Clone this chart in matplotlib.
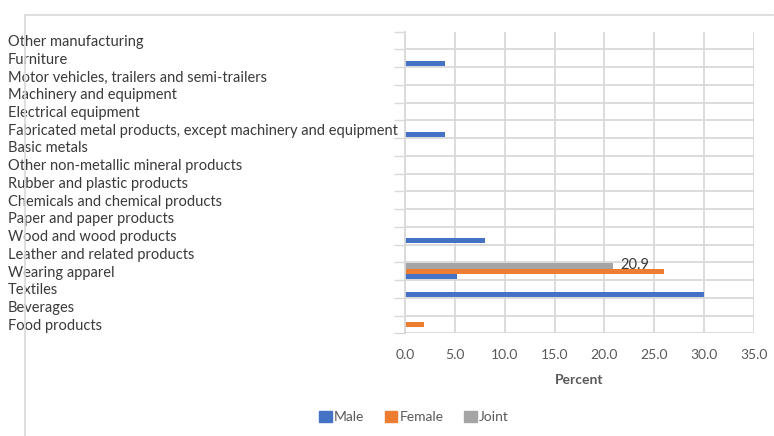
"""Horizontal grouped bar chart: share of manufacturing by sex of owner."""

import matplotlib
matplotlib.use("Agg")
import matplotlib.pyplot as plt
import matplotlib.transforms as mtransforms
from matplotlib.lines import Line2D
from matplotlib.patches import Patch
import numpy as np

# ── Data (bottom to top, as the categories sit on the axis) ──
industries = [
    "Food products",
    "Beverages",
    "Textiles",
    "Wearing apparel",
    "Leather and related products",
    "Wood and wood products",
    "Paper and paper products",
    "Chemicals and chemical products",
    "Rubber and plastic products",
    "Other non-metallic mineral products",
    "Basic metals",
    "Fabricated metal products, except machinery and equipment",
    "Electrical equipment",
    "Machinery and equipment",
    "Motor vehicles, trailers and semi-trailers",
    "Furniture",
    "Other manufacturing",
]
male   = [0, 0, 30.0, 5.2, 0, 8.0, 0, 0, 0, 0, 0, 4.0, 0, 0, 0, 4.0, 0]
female = [1.9, 0, 0, 26.0, 0, 0, 0, 0, 0, 0, 0, 0, 0, 0, 0, 0, 0]
joint  = [0, 0, 0, 20.9, 0, 0, 0, 0, 0, 0, 0, 0, 0, 0, 0, 0, 0]
xticks = [0, 5, 10, 15, 20, 25, 30, 35]

# ── Style ──
plt.rcParams.update({
    "font.family": ["Lato", "DejaVu Sans"],
    "font.size": 10,
})

C_MALE   = "#4472C4"
C_FEMALE = "#ED7D31"
C_JOINT  = "#A5A5A5"
C_GRID   = "#D9D9D9"
C_TEXT   = "#3A3A3A"
C_TICK   = "#595959"

W, H = 774, 436
fig = plt.figure(figsize=(W / 100, H / 100), dpi=100)
ax = fig.add_axes([405 / W, 1 - 333.3 / H, (754 - 405) / W, (333.3 - 31.7) / H])

y = np.arange(len(industries))
h = 0.29
ax.barh(y - h, male, h, color=C_MALE, label="Male")
ax.barh(y, female, h, color=C_FEMALE, label="Female")
bars_j = ax.barh(y + h, joint, h, color=C_JOINT, label="Joint")

# data label on the only joint-ownership bar
for bar, val in zip(bars_j, joint):
    if val > 0:
        ax.text(bar.get_width() + 0.7, bar.get_y() + bar.get_height() / 2 + 0.05,
                f"{val:.1f}", ha="left", va="center", fontsize=10.5, color=C_TEXT)

ax.set_xlim(0, 35)
ax.set_ylim(-0.5, len(industries) - 0.5)
ax.set_xticks(xticks)
ax.set_xticklabels([f"{v:.1f}" for v in xticks], color=C_TICK, fontsize=10)
ax.tick_params(axis="x", length=0, pad=11)
ax.set_xlabel("Percent", color=C_TICK, fontsize=10, fontweight="bold", labelpad=10)

# category boundaries: tick marks plus horizontal rules
ax.set_yticks([])
ax.set_yticks(np.arange(len(industries) + 1) - 0.5, minor=True)
ax.tick_params(axis="y", which="minor", length=8, width=1, color=C_GRID)
ax.grid(axis="x", color=C_GRID, lw=1.3)
ax.grid(axis="y", which="minor", color=C_GRID, lw=1.3)
ax.yaxis.get_minor_ticks()[-1].gridline.set_visible(False)
ax.set_axisbelow(True)

for side in ["top", "right", "bottom"]:
    ax.spines[side].set_visible(False)
ax.spines["left"].set_color(C_GRID)
ax.spines["left"].set_linewidth(1.3)

# left-aligned category names
trans = mtransforms.blended_transform_factory(fig.transFigure, ax.transData)
for yi, name in zip(y, industries):
    ax.text(8 / W, yi - 0.08, name, transform=trans, ha="left", va="center",
            fontsize=10.5, color=C_TEXT, clip_on=False)

# legend
handles = [Patch(color=C_MALE, label="Male"),
           Patch(color=C_FEMALE, label="Female"),
           Patch(color=C_JOINT, label="Joint")]
fig.legend(handles=handles, loc="center", bbox_to_anchor=(414 / W, 1 - 417 / H),
           ncol=3, frameon=False, fontsize=10, handlelength=0.9, handleheight=0.9,
           handletextpad=0.15, columnspacing=1.5, labelcolor=C_TICK)

# chart area border (left and top edges)
fig.add_artist(Line2D([25 / W, 25 / W], [0, 1 - 15 / H], transform=fig.transFigure,
                      color=C_GRID, lw=1.2))
fig.add_artist(Line2D([25 / W, 773 / W], [1 - 15 / H, 1 - 15 / H], transform=fig.transFigure,
                      color=C_GRID, lw=1.2))

fig.savefig("out.png", dpi=100)
